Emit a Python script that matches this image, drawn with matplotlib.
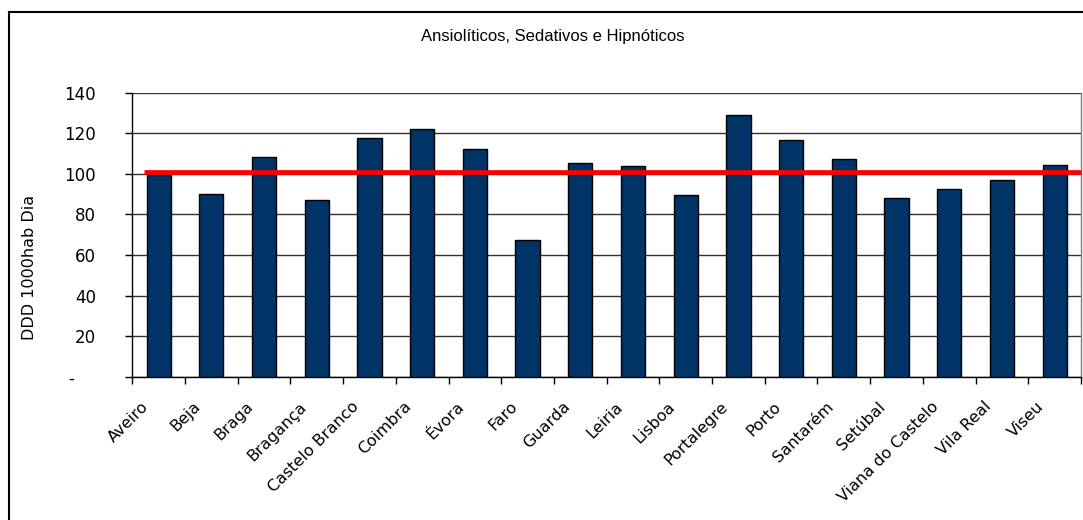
import matplotlib
matplotlib.use("Agg")
import matplotlib.pyplot as plt
from matplotlib.lines import Line2D
from matplotlib.ticker import FixedLocator, NullFormatter
from matplotlib.transforms import ScaledTranslation

# Consumption by district (DDD per 1000 inhabitants per day)
districts = ["Aveiro", "Beja", "Braga", "Bragança", "Castelo Branco", "Coimbra",
             "Évora", "Faro", "Guarda", "Leiria", "Lisboa", "Portalegre",
             "Porto", "Santarém", "Setúbal", "Viana do Castelo", "Vila Real",
             "Viseu"]
ddd_values = [99.3, 90.3, 108.4, 87.3, 117.6, 122.2, 112.2, 67.5, 105.4,
              103.9, 89.6, 128.9, 116.8, 107.1, 88.1, 92.7, 97.2, 104.6]
national_mean = 101.1

y_ticks = [0, 20, 40, 60, 80, 100, 120, 140]
y_tick_labels = ["-    ", "20", "40", "60", "80", "100", "120", "140"]

W, H, DPI = 1083, 520, 100
fig = plt.figure(figsize=(W / DPI, H / DPI), dpi=DPI)
fig.patch.set_facecolor("white")

ax = fig.add_axes([132.3 / W, 1 - 376.7 / H, (1081 - 132.3) / W, (376.7 - 92.7) / H])

n = len(districts)
x = list(range(n))
ax.bar(x, ddd_values, width=0.46, color="#003366", edgecolor="black",
       linewidth=1.0, zorder=3)

# Reference line for the national mean
ax.plot([-0.28, n - 0.5], [national_mean, national_mean], color="#ff0000",
        linewidth=3.4, solid_capstyle="butt", zorder=4, clip_on=False)

ax.set_xlim(-0.5, n - 0.5)
ax.set_ylim(0, 140)

ax.set_yticks(y_ticks)
ax.set_yticklabels(y_tick_labels, fontsize=12, family="DejaVu Sans")
ax.yaxis.grid(True, color="#333333", linewidth=1.0, zorder=0)
ax.set_axisbelow(True)

# Category ticks sit between bars
ax.xaxis.set_major_locator(FixedLocator([i - 0.5 for i in range(n + 1)]))
ax.xaxis.set_major_formatter(NullFormatter())
ax.tick_params(axis="x", which="major", length=5, width=1, color="black")
ax.tick_params(axis="y", length=5, width=1, color="black", pad=21)

# Slanted category names hanging below each bar
label_offset = ScaledTranslation(-13 / DPI, -27.5 / DPI, fig.dpi_scale_trans)
for xi, name in zip(x, districts):
    ax.text(xi, 0, name, transform=ax.get_xaxis_transform() + label_offset,
            rotation=45, ha="right", va="center", rotation_mode="anchor",
            fontsize=11.5, family="DejaVu Sans", clip_on=False)

for side in ["left", "bottom"]:
    ax.spines[side].set_color("black")
    ax.spines[side].set_linewidth(1.0)
ax.spines["top"].set_visible(False)
ax.spines["right"].set_color("#808080")
ax.spines["right"].set_linewidth(1.0)

ax.set_ylabel("DDD 1000hab Dia", fontsize=11.5, family="DejaVu Sans")
ax.yaxis.set_label_coords(-0.1005, 0.386)

fig.text(553 / W, 1 - 37 / H, "Ansiolíticos, Sedativos e Hipnóticos",
         ha="center", va="center", fontsize=12, family="Liberation Sans")

# Chart frame (left and top edges)
fig.add_artist(Line2D([8.5 / W, 8.5 / W], [0, 1 - 11.5 / H],
                      transform=fig.transFigure, color="black", linewidth=1.5))
fig.add_artist(Line2D([8.5 / W, 1], [1 - 11.5 / H, 1 - 11.5 / H],
                      transform=fig.transFigure, color="black", linewidth=1.5))

fig.savefig("out.png", dpi=DPI, facecolor="white")
